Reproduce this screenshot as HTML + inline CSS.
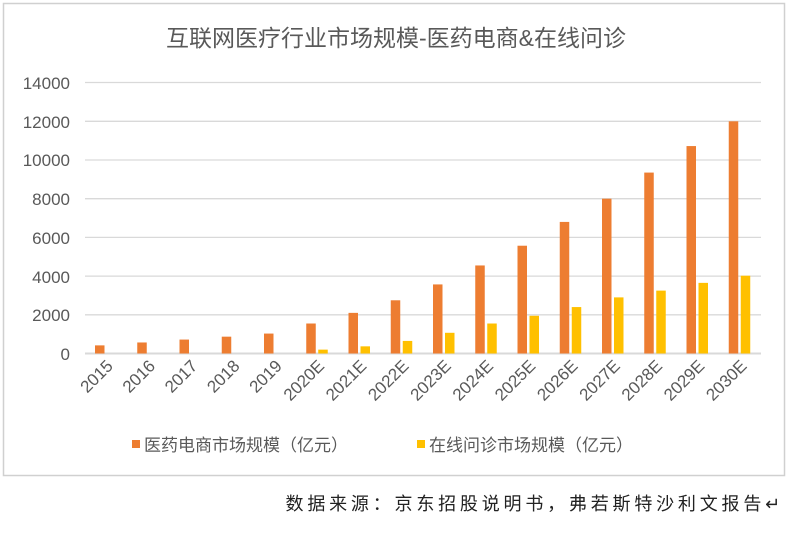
<!DOCTYPE html>
<html><head><meta charset="utf-8"><style>
body{margin:0;background:#fff;width:792px;height:528px;overflow:hidden}
text{font-family:"Liberation Sans","Noto Sans CJK SC",sans-serif}
</style></head><body>
<svg width="792" height="528" xmlns="http://www.w3.org/2000/svg">
<rect x="3.5" y="3.5" width="781" height="472" fill="#fff" stroke="#d0d0d0" stroke-width="1.5"/>
<text x="396" y="46" text-anchor="middle" font-size="23" fill="#595959">互联网医疗行业市场规模-医药电商&amp;在线问诊</text>
<g stroke="#d9d9d9" stroke-width="1.3">
<line x1="85" x2="761" y1="82.5" y2="82.5"/><line x1="85" x2="761" y1="121.3" y2="121.3"/>
<line x1="85" x2="761" y1="160" y2="160"/><line x1="85" x2="761" y1="198.7" y2="198.7"/>
<line x1="85" x2="761" y1="237.4" y2="237.4"/><line x1="85" x2="761" y1="276.1" y2="276.1"/>
<line x1="85" x2="761" y1="314.8" y2="314.8"/><line x1="85" x2="761" y1="353.5" y2="353.5" stroke-width="2"/>
</g>
<g font-size="17" fill="#595959" text-anchor="end">
<text x="70" y="89">14000</text><text x="70" y="128">12000</text><text x="70" y="166">10000</text>
<text x="70" y="205">8000</text><text x="70" y="244">6000</text><text x="70" y="283">4000</text>
<text x="70" y="321">2000</text><text x="70" y="360">0</text>
</g>
<g id="bars"></g>
<g id="xl" font-size="17" fill="#595959"></g>
<rect x="132" y="440" width="8" height="8" fill="#ed7d31"/>
<text x="144" y="451" font-size="17" fill="#595959">医药电商市场规模（亿元）</text>
<rect x="417" y="440" width="8" height="8" fill="#ffc000"/>
<text x="429" y="451" font-size="17" fill="#595959">在线问诊市场规模（亿元）</text>
<text x="784" y="510" text-anchor="end" font-size="18" letter-spacing="3.8" fill="#222">数据来源：京东招股说明书，弗若斯特沙利文报告↵</text>
</svg>
<script>
var o=[420,570,720,870,1030,1550,2100,2750,3570,4550,5570,6800,8000,9350,10720,12000];
var y=[0,0,0,0,0,200,370,650,1070,1550,1950,2400,2900,3250,3650,4020];
var l=["2015","2016","2017","2018","2019","2020E","2021E","2022E","2023E","2024E","2025E","2026E","2027E","2028E","2029E","2030E"];
var s=(353.5-121.3)/12000,h="",t="";
for(var i=0;i<16;i++){var c=85+i*42.25;
h+='<rect x="'+(c+10)+'" y="'+(353.5-o[i]*s)+'" width="9.5" height="'+(o[i]*s)+'" fill="#ed7d31"/>';
if(y[i])h+='<rect x="'+(c+22)+'" y="'+(353.5-y[i]*s)+'" width="9.5" height="'+(y[i]*s)+'" fill="#ffc000"/>';
t+='<text text-anchor="end" transform="translate('+(c+29)+',367) rotate(-45)">'+l[i]+'</text>';}
document.getElementById("bars").innerHTML=h;document.getElementById("xl").innerHTML=t;
</script>
</body></html>
